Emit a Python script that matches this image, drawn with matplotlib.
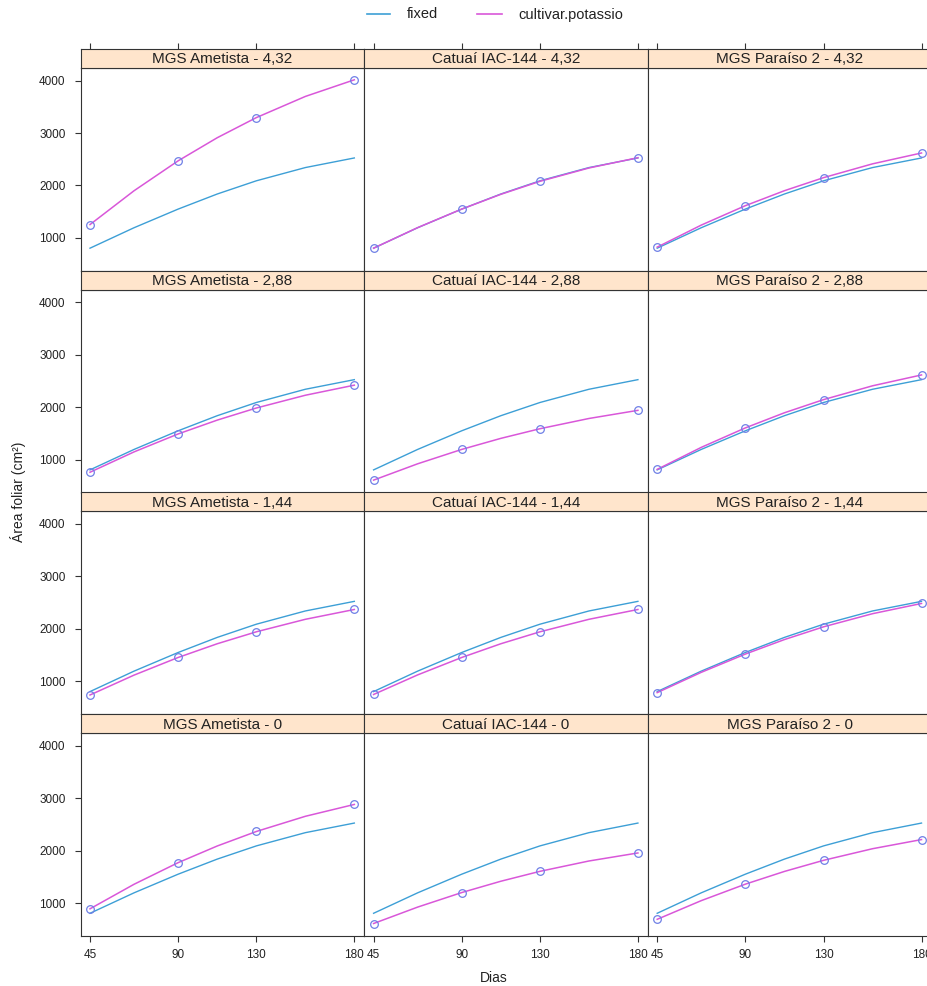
import numpy as np
import matplotlib
matplotlib.use('Agg')
import matplotlib.pyplot as plt
from matplotlib.lines import Line2D

plt.rcParams['font.family'] = ['Liberation Sans', 'DejaVu Sans']

# dados
dias_obs = [45, 90, 130, 180]
dias_curva = [45, 67.5, 90, 110, 130, 155, 180]
xticks = [45, 90, 130, 180]
yticks = [1000, 2000, 3000, 4000]

cultivares = ['MGS Ametista', 'Catuaí IAC-144', 'MGS Paraíso 2']
doses = ['4,32', '2,88', '1,44', '0']

# curva do modelo fixo (igual em todos os paineis)
curva_fixed = [805, 1195, 1550, 1838, 2090, 2342, 2525]

# medias observadas (uma lista por cultivar, na ordem de 'cultivares')
obs_432 = [[1255, 2470, 3295, 4015], [805, 1550, 2080, 2530], [825, 1615, 2150, 2620]]
obs_288 = [[760, 1490, 1985, 2420], [610, 1195, 1590, 1940], [815, 1605, 2145, 2615]]
obs_144 = [[740, 1455, 1945, 2370], [750, 1455, 1945, 2370], [785, 1520, 2040, 2485]]
obs_0 = [[890, 1770, 2365, 2880], [610, 1200, 1605, 1955], [690, 1360, 1815, 2210]]

# curvas cultivar.potassio
curva_432 = [[1255, 1900, 2470, 2911, 3295, 3698, 4015],
             [805, 1197, 1550, 1832, 2080, 2334, 2530],
             [825, 1245, 1615, 1901, 2150, 2413, 2620]]
curva_288 = [[760, 1148, 1490, 1754, 1985, 2228, 2420],
             [610, 921, 1195, 1406, 1590, 1785, 1940],
             [815, 1234, 1605, 1894, 2145, 2408, 2615]]
curva_144 = [[740, 1119, 1455, 1717, 1945, 2183, 2370],
             [750, 1123, 1455, 1717, 1945, 2183, 2370],
             [785, 1172, 1520, 1797, 2040, 2290, 2485]]
curva_0 = [[890, 1358, 1770, 2088, 2365, 2654, 2880],
           [610, 923, 1200, 1416, 1605, 1802, 1955],
           [690, 1046, 1360, 1603, 1815, 2036, 2210]]

obs_linhas = [obs_432, obs_288, obs_144, obs_0]
curva_linhas = [curva_432, curva_288, curva_144, curva_0]

cor_fixed = '#3d9fd6'
cor_cult = '#d957d9'
cor_pt = '#6f80e6'
cor_strip = '#ffe5cc'
cor_borda = '#333333'

W, H = 928, 986
fig = plt.figure(figsize=(W / 100, H / 100), dpi=100)


def fx(p):
    return p / W


def fy(p):
    return 1 - p / H


left0 = 80.7
colw = 283.6
pitch = 221.7
strip_h = 19

for r in range(4):
    strip_top = 49 + r * pitch
    plot_top = strip_top + strip_h
    plot_bot = strip_top + 222
    for c in range(3):
        left = left0 + c * colw
        ax = fig.add_axes([fx(left), fy(plot_bot), colw / W, (plot_bot - plot_top) / H])
        ax.plot(dias_curva, curva_fixed, color=cor_fixed, lw=1.0, zorder=2)
        ax.plot(dias_curva, curva_linhas[r][c], color=cor_cult, lw=1.1, zorder=3)
        ax.plot(dias_obs, obs_linhas[r][c], 'o', mfc='none', mec=cor_pt, ms=5.5, mew=0.9, zorder=4)
        ax.set_xlim(40.25, 185.1)
        ax.set_ylim(370, 4240)
        for s in ax.spines.values():
            s.set_color(cor_borda)
            s.set_linewidth(0.8)
        ax.tick_params(direction='out', length=4.5, width=0.8, color=cor_borda,
                       labelsize=8.5, labelcolor='#222222')
        ax.set_xticks(xticks)
        ax.set_yticks(yticks)
        if r == 3:
            ax.tick_params(axis='x', pad=5)
        else:
            ax.tick_params(axis='x', bottom=False, labelbottom=False)
        if c == 0:
            ax.tick_params(axis='y', pad=6.5)
        else:
            ax.tick_params(axis='y', left=False, labelleft=False)

        sax = fig.add_axes([fx(left), fy(plot_top), colw / W, strip_h / H])
        sax.set_facecolor(cor_strip)
        sax.set_xlim(40.25, 185.1)
        sax.set_yticks([])
        if r == 0:
            sax.set_xticks(xticks)
            sax.tick_params(axis='x', bottom=False, labelbottom=False, top=True,
                            direction='out', length=4.5, width=0.8, color=cor_borda)
        else:
            sax.set_xticks([])
        for s in sax.spines.values():
            s.set_color(cor_borda)
            s.set_linewidth(0.8)
        sax.text(0.5, 0.45, cultivares[c] + ' - ' + doses[r], transform=sax.transAxes,
                 ha='center', va='center', fontsize=11, color='#222222')

# legenda
fig.add_artist(Line2D([fx(367), fx(390)], [fy(14), fy(14)], color=cor_fixed, lw=1.2))
fig.text(fx(407), fy(14.5), 'fixed', ha='left', va='center', fontsize=10.5, color='#222222')
fig.add_artist(Line2D([fx(477), fx(502)], [fy(14), fy(14)], color=cor_cult, lw=1.2))
fig.text(fx(518), fy(14.5), 'cultivar.potassio', ha='left', va='center', fontsize=10.5, color='#222222')

fig.text(fx(18), fy(492), 'Área foliar (cm²)', rotation=90, ha='center', va='center',
         fontsize=10, color='#222222')
fig.text(fx(494), fy(978), 'Dias', ha='center', va='center', fontsize=10, color='#222222')

fig.savefig('out.png', dpi=100)
